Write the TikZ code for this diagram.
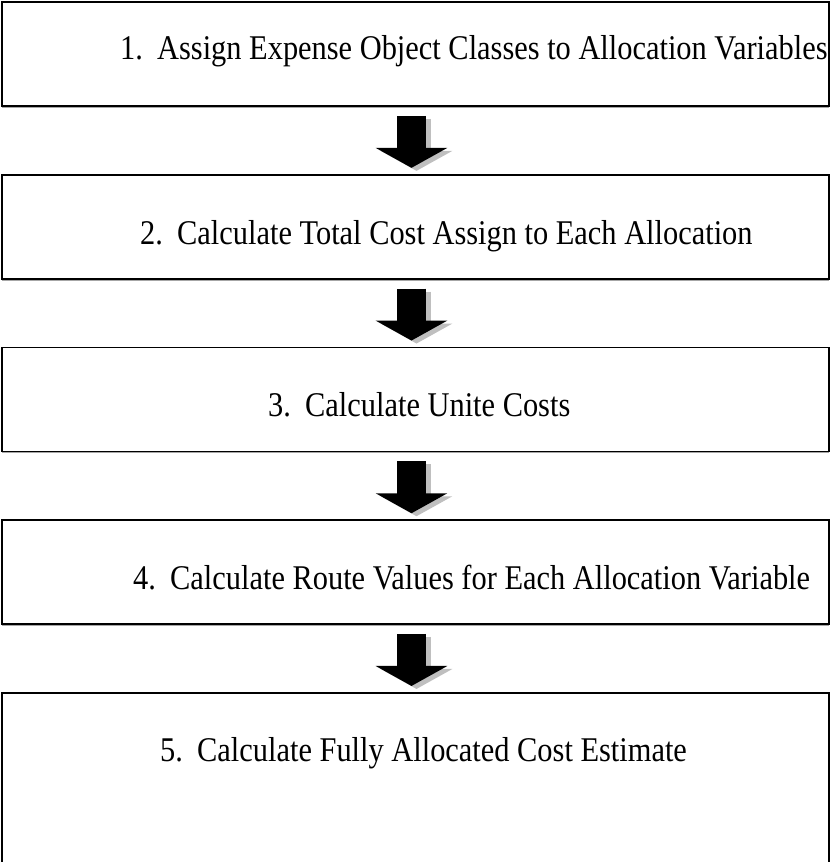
\documentclass[tikz,border=0pt]{standalone}
\usepackage{fontspec}
\setmainfont{Liberation Serif}
\usetikzlibrary{arrows.meta,positioning,shadows}

\newcommand{\stepnum}[2]{\makebox[37pt][l]{#1.}#2}

\begin{document}
\begin{tikzpicture}[node distance=67pt,>=Latex,
  stepbox/.style={draw,line width=1.7pt,fill=white,minimum width=827pt,minimum height=104pt,inner sep=0pt,
    drop shadow={shadow xshift=0pt,shadow yshift=-2pt,fill=black!35,opacity=1}},
  steptext/.style={anchor=base west,inner sep=0pt,yscale=1.14,transform shape,font=\fontsize{30.4}{36}\selectfont},
  flow/.style={line width=29pt,-{Triangle[width=71pt,length=20pt]}}]
\useasboundingbox (0,0) rectangle (831pt,-862pt);
\node[stepbox] (s1) at (415.5pt,-54pt) {};
\node[stepbox,below=of s1] (s2) {};
\node[stepbox,below=of s2] (s3) {};
\node[stepbox,below=of s3] (s4) {};
\node[stepbox,below=of s4,minimum height=176pt] (s5) {};
% step texts
\foreach \n/\x/\y/\txt in {1/120/59/Assign Expense Object Classes to Allocation Variables,
  2/140/244/Calculate Total Cost Assign to Each Allocation,
  3/268/416/Calculate Unite Costs,
  4/133/589/Calculate Route Values for Each Allocation Variable,
  5/160/761/Calculate Fully Allocated Cost Estimate}
  \node[steptext] (t\n) at (\x pt,-\y pt) {\stepnum{\n}{\txt}};
% block arrows with shadow
\foreach \a/\b in {s1/s2,s2/s3,s3/s4,s4/s5}{
  \draw[flow,draw=black!25,transform canvas={shift={(5pt,-3pt)}}] ([xshift=-4pt,yshift=-9pt]\a.south) -- ([xshift=-4pt,yshift=6pt]\b.north);
  \draw[flow] ([xshift=-4pt,yshift=-9pt]\a.south) -- ([xshift=-4pt,yshift=6pt]\b.north);
}
\end{tikzpicture}
\end{document}
